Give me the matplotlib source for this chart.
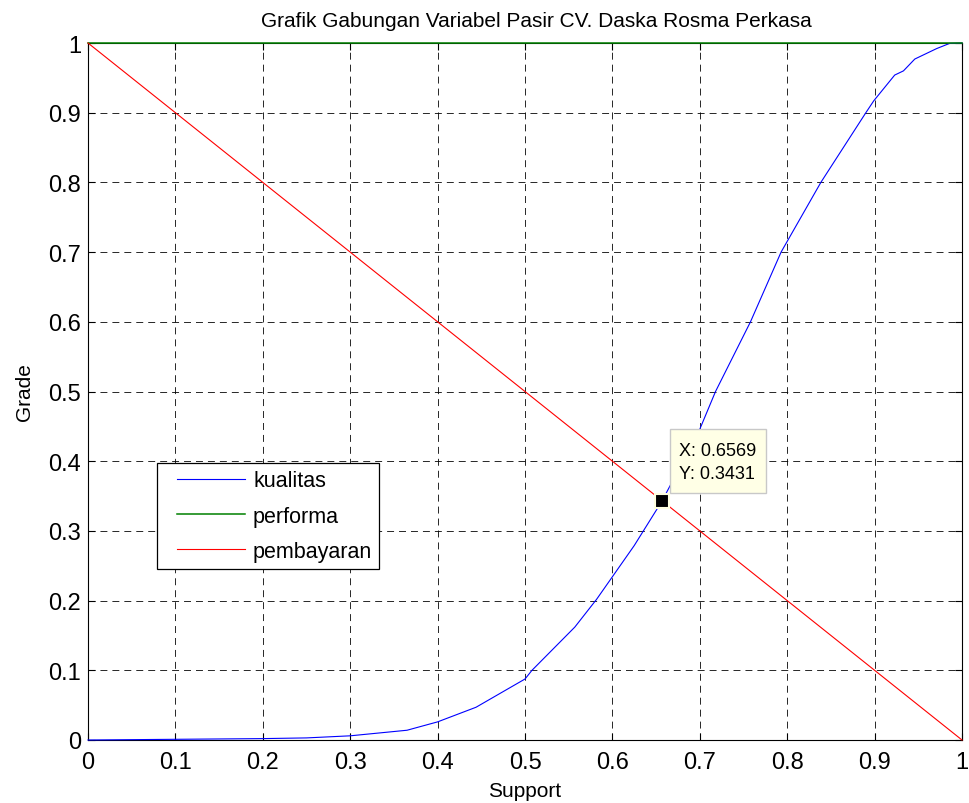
import matplotlib
matplotlib.use("Agg")
import matplotlib.pyplot as plt
import matplotlib.transforms as mtransforms
from matplotlib.patches import Rectangle
from matplotlib.legend_handler import HandlerLine2D
from matplotlib.lines import Line2D
from matplotlib.ticker import FuncFormatter

plt.rcParams['font.family'] = ['Liberation Sans', 'DejaVu Sans']
plt.rcParams['lines.scale_dashes'] = False

# Membership curves over the support domain
kualitas_x = [0, 0.1, 0.2, 0.25, 0.3, 0.365, 0.4, 0.444, 0.5, 0.508, 0.557, 0.582,
              0.625, 0.6569, 0.70, 0.718, 0.758, 0.793, 0.8385, 0.89, 0.899, 0.923,
              0.933, 0.946, 0.971, 0.986, 1.0]
kualitas_y = [0, 0.001, 0.002, 0.003, 0.006, 0.014, 0.026, 0.047, 0.0875, 0.1, 0.162, 0.202,
              0.279, 0.3431, 0.446, 0.5, 0.6, 0.7, 0.8, 0.9, 0.917, 0.954,
              0.960, 0.977, 0.992, 0.9995, 1.0]
performa_x = [0, 1]
performa_y = [1, 1]
pembayaran_x = [0, 1]
pembayaran_y = [1, 0]

# Data cursor position
tip_x = 0.6569
tip_y = 0.3431

ticks = [0, 0.1, 0.2, 0.3, 0.4, 0.5, 0.6, 0.7, 0.8, 0.9, 1]

fig = plt.figure(figsize=(9.69, 8.04), dpi=100)
ax = fig.add_axes([88 / 969, 63 / 804, 874 / 969, 697 / 804])

ax.plot(kualitas_x, kualitas_y, color=(0, 0, 1), lw=0.8, label='kualitas', zorder=3, clip_on=False)
ax.plot(performa_x, performa_y, color=(0, 0.5, 0), lw=1.1, label='performa', zorder=3, clip_on=False)
ax.plot(pembayaran_x, pembayaran_y, color=(1, 0, 0), lw=0.8, label='pembayaran', zorder=3, clip_on=False)

ax.set_xlim(0, 1)
ax.set_ylim(0, 1)
ax.set_xticks(ticks)
ax.set_yticks(ticks)
fmt = FuncFormatter(lambda v, p: ('%g' % round(v, 2)))
ax.xaxis.set_major_formatter(fmt)
ax.yaxis.set_major_formatter(fmt)

ax.grid(True, color='k', linestyle=(0, (5, 3.6)), linewidth=0.7, alpha=0.85)
ax.set_axisbelow(True)
ax.tick_params(direction='in', length=5, width=0.8, top=True, right=True,
               labelsize=17, colors='k')
ax.tick_params(axis='x', pad=8)
ax.tick_params(axis='y', pad=5)
for s in ax.spines.values():
    s.set_linewidth(0.8)
    s.set_color('k')

ax.set_title('Grafik Gabungan Variabel Pasir CV. Daska Rosma Perkasa', fontsize=15,
             pad=12, x=0.5126)
ax.set_xlabel('Support', fontsize=15, labelpad=6)
ax.set_ylabel('Grade', fontsize=15, labelpad=10)

leg_fs = 15.5
leg = ax.legend(loc='upper left', bbox_to_anchor=(0.079, 0.397), borderaxespad=0,
                fontsize=leg_fs, handlelength=3.77, handletextpad=0.36, labelspacing=0.66,
                fancybox=False, edgecolor='k', framealpha=1, borderpad=0.33,
                handler_map={Line2D: HandlerLine2D(xpad=0.6)})
leg.get_frame().set_linewidth(0.9)

# Data cursor marker and label box
ax.plot([tip_x], [tip_y], marker='s', markersize=10, markerfacecolor='k',
        markeredgecolor='#ffffe0', markeredgewidth=1.5, zorder=6, clip_on=False)
tip_trans = fig.dpi_scale_trans + mtransforms.ScaledTranslation(tip_x, tip_y, ax.transData)
ax.add_patch(Rectangle((0.077, 0.074), 0.966, 0.643, transform=tip_trans,
                       facecolor='#ffffe6', edgecolor='#c8c8c8', linewidth=1,
                       zorder=5, clip_on=False))
ax.text(0.165, 0.585, 'X: %.4f\nY: %.4f' % (tip_x, tip_y), transform=tip_trans,
        ha='left', va='top', fontsize=13, linespacing=1.42, zorder=7, clip_on=False)

fig.savefig('out.png', dpi=100)
